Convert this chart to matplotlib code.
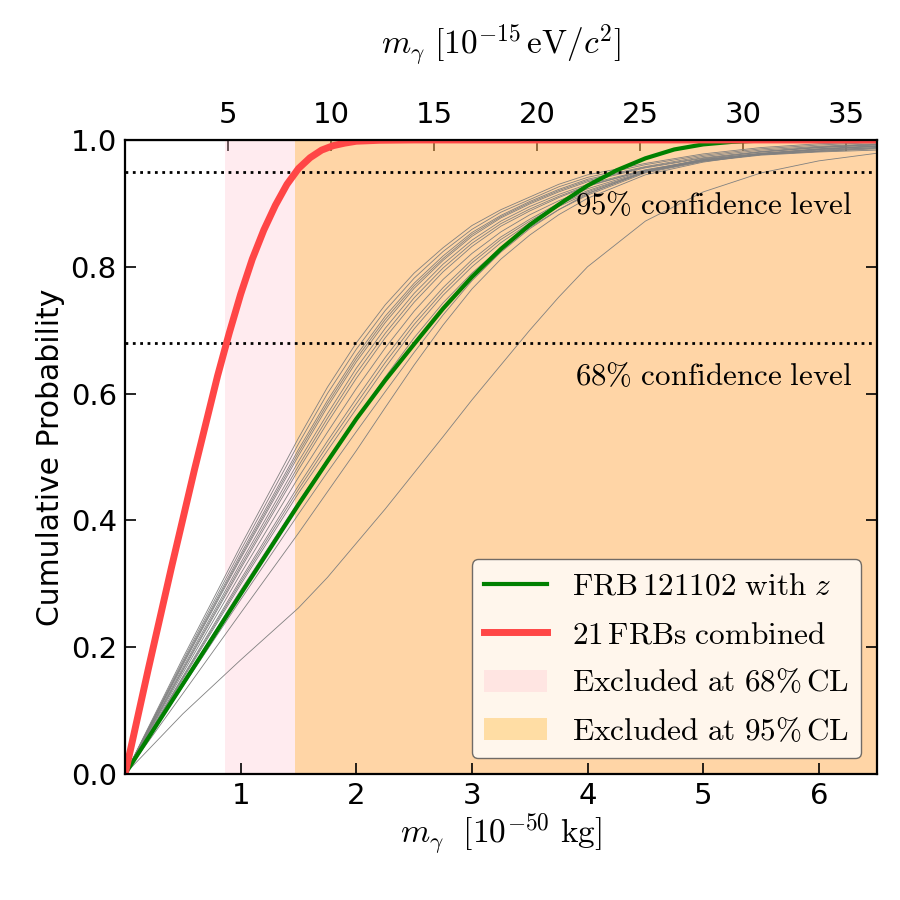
import matplotlib
matplotlib.use('Agg')
from matplotlib import pyplot as plt
from matplotlib.patches import Patch

# photon mass grid, in 10^-50 kg
x_red = [0, 0.2, 0.4, 0.6, 0.8, 0.9, 1.0, 1.1, 1.2, 1.3, 1.4, 1.5, 1.6, 1.7, 1.8, 1.9, 2.0, 2.2, 2.5, 6.5]
y_red = [0, 0.165, 0.325, 0.48, 0.628, 0.695, 0.757, 0.812, 0.858, 0.897, 0.93, 0.955, 0.972, 0.984,
         0.991, 0.995, 0.998, 0.9995, 1.0, 1.0]

x_green = [0, 0.5, 1.0, 1.5, 1.75, 2.0, 2.25, 2.5, 2.75, 3.0, 3.25, 3.5, 3.75, 4.0, 4.25, 4.5, 4.75,
           5.0, 5.25, 5.5, 6.0, 6.5]
y_green = [0, 0.142, 0.284, 0.425, 0.493, 0.56, 0.621, 0.678, 0.734, 0.784, 0.828, 0.866, 0.898, 0.928,
           0.952, 0.971, 0.985, 0.993, 0.997, 0.999, 1.0, 1.0]

# single FRB curves
x_single = [0, 0.5, 1.0, 1.5, 1.75, 2.0, 2.25, 2.5, 2.75, 3.0, 3.25, 3.5, 3.75, 4.0, 4.5, 5.0, 5.5, 6.0, 6.5]
y_single = [
    [0, .183, .360, .530, .610, .680, .740, .790, .830, .865, .890, .910, .930, .945, .963, .978, .988, .994, .997],
    [0, .179, .353, .521, .600, .670, .731, .782, .824, .859, .886, .906, .926, .941, .961, .976, .986, .992, .996],
    [0, .176, .347, .512, .589, .660, .722, .774, .817, .854, .881, .903, .922, .938, .958, .974, .984, .990, .994],
    [0, .174, .343, .507, .584, .655, .717, .770, .813, .851, .879, .901, .920, .936, .957, .972, .982, .989, .993],
    [0, .172, .340, .502, .579, .650, .712, .766, .810, .848, .877, .899, .918, .934, .956, .971, .981, .988, .993],
    [0, .168, .333, .493, .568, .640, .703, .758, .804, .842, .872, .895, .914, .930, .953, .969, .979, .986, .991],
    [0, .165, .328, .486, .561, .632, .695, .751, .798, .837, .868, .891, .911, .928, .952, .969, .979, .985, .990],
    [0, .163, .324, .480, .554, .624, .688, .744, .792, .832, .864, .888, .909, .927, .952, .968, .978, .985, .990],
    [0, .159, .316, .468, .539, .608, .672, .730, .780, .821, .855, .882, .904, .923, .951, .968, .978, .984, .988],
    [0, .154, .307, .455, .525, .592, .657, .716, .767, .811, .847, .875, .900, .920, .950, .967, .977, .983, .988],
    [0, .152, .303, .449, .518, .584, .649, .709, .761, .806, .843, .872, .898, .918, .950, .967, .977, .982, .987],
    [0, .150, .299, .443, .510, .576, .641, .702, .755, .800, .838, .869, .895, .916, .949, .967, .977, .982, .986],
    [0, .145, .290, .430, .496, .560, .626, .688, .743, .790, .830, .862, .890, .913, .948, .966, .976, .981, .984],
    [0, .138, .275, .410, .476, .540, .603, .665, .724, .778, .823, .860, .890, .915, .950, .970, .981, .988, .992],
    [0, .127, .254, .380, .445, .510, .578, .645, .708, .765, .812, .850, .882, .908, .945, .965, .978, .986, .990],
    [0, .095, .180, .262, .310, .364, .418, .475, .532, .590, .645, .700, .752, .800, .872, .918, .948, .967, .979],
]

cl68 = 0.68
cl95 = 0.95
m_cl68 = 0.864
m_cl95 = 1.469
x_max = 6.5
kg_per_ev = 0.17827  # 10^-15 eV/c^2 in units of 10^-50 kg

plt.rcParams['mathtext.fontset'] = 'cm'
plt.rcParams['font.size'] = 21

fig = plt.figure(figsize=(9, 9), dpi=100)
ax = fig.add_axes([0.139, 0.14, 0.835, 0.7045])

span68 = ax.axvspan(m_cl68, x_max, color='pink', alpha=0.3, lw=0)
span95 = ax.axvspan(m_cl95, x_max, color='orange', alpha=0.3, lw=0)

for ys in y_single:
    ax.plot(x_single, ys, color='0.5', lw=0.6)

ax.axhline(cl95, color='k', ls=':', lw=2)
ax.axhline(cl68, color='k', ls=':', lw=2)
ax.text(6.29, cl95 - 0.053, r'$95\%\ \mathrm{confidence\ level}$', ha='right', va='center', fontsize=22.3)
ax.text(6.29, cl68 - 0.053, r'$68\%\ \mathrm{confidence\ level}$', ha='right', va='center', fontsize=22.3)

line_g, = ax.plot(x_green, y_green, color='green', lw=3)
line_r, = ax.plot(x_red, y_red, color='#ff4646', lw=5)

ax.set_xlim(0, x_max)
ax.set_ylim(0, 1)
ax.set_xticks([1, 2, 3, 4, 5, 6])
ax.set_yticks([0, 0.2, 0.4, 0.6, 0.8, 1.0])
ax.set_yticklabels(['0.0', '0.2', '0.4', '0.6', '0.8', '1.0'])
ax.tick_params(direction='in', length=8, width=1.2, right=True, labelsize=21, pad=6)
for s in ax.spines.values():
    s.set_linewidth(1.6)
ax.set_xlabel(r'$m_\gamma\ \ [10^{-50}\ \mathrm{kg}]$', fontsize=24, labelpad=1)
ax.set_ylabel('Cumulative Probability', fontsize=21.5)

top = ax.secondary_xaxis('top', functions=(lambda v: v / kg_per_ev, lambda v: v * kg_per_ev))
top.set_xticks([5, 10, 15, 20, 25, 30, 35])
top.tick_params(direction='in', length=8, width=1.2, labelsize=21, pad=8)
top.set_xlabel(r'$m_\gamma\ [10^{-15}\,\mathrm{eV}/c^2]$', fontsize=24, labelpad=34)

handles = [line_g, line_r,
           Patch(facecolor='pink', alpha=0.3), Patch(facecolor='orange', alpha=0.3)]
labels = [r'$\mathrm{FRB\,121102\ with}\ z$', r'$21\,\mathrm{FRBs\ combined}$',
          r'$\mathrm{Excluded\ at\ 68\%\,CL}$', r'$\mathrm{Excluded\ at\ 95\%\,CL}$']
leg = ax.legend(handles, labels, loc='lower right', fontsize=22.5, fancybox=True, framealpha=0.8,
                handlelength=2.0, borderaxespad=0.5, labelspacing=0.62)
leg.get_frame().set_edgecolor('0.3')

fig.savefig('out.png', dpi=100)
